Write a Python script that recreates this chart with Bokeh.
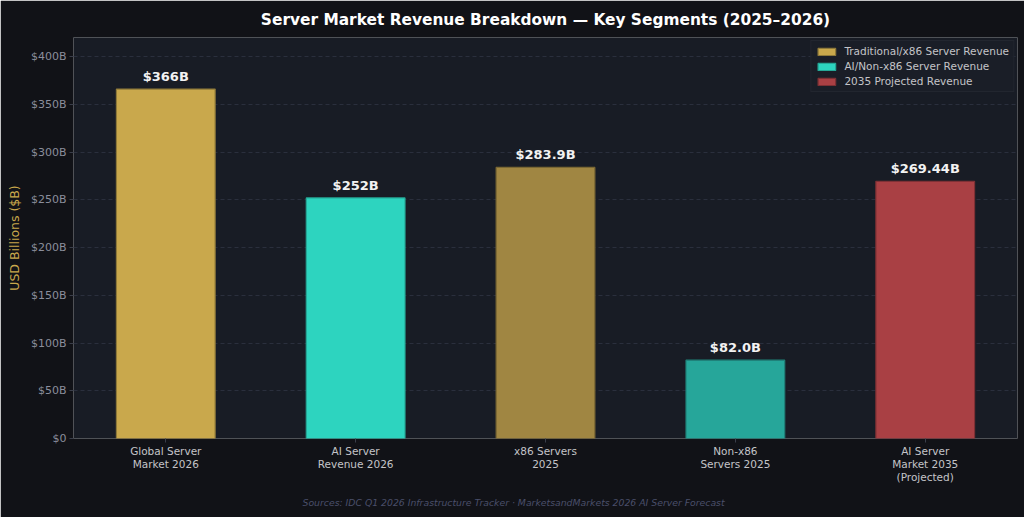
from bokeh.plotting import figure
from bokeh.models import (ColumnDataSource, FixedTicker, Legend, LegendItem,
                          Title, Range1d)
from bokeh.embed import file_html
from bokeh.resources import INLINE

# Segment data (USD billions)
categories = ["Global Server\nMarket 2026", "AI Server\nRevenue 2026", "x86 Servers\n2025",
              "Non-x86\nServers 2025", "AI Server\nMarket 2035\n(Projected)"]
values = [366, 252, 283.9, 82.0, 269.44]
value_labels = ["$366B", "$252B", "$283.9B", "$82.0B", "$269.44B"]
bar_colors = ["#c9a84c", "#2dd4bf", "#a08642", "#26a69a", "#a94044"]
edge_colors = ["#8f7a3a", "#25a897", "#7a6733", "#1f8179", "#7d3034"]
y_ticks = [0, 50, 100, 150, 200, 250, 300, 350, 400]
legend_labels = ["Traditional/x86 Server Revenue", "AI/Non-x86 Server Revenue", "2035 Projected Revenue"]
legend_index = [0, 1, 4]

FONT = "DejaVu Sans"
xs = list(range(len(categories)))

src = ColumnDataSource(dict(x=xs, top=values, color=bar_colors, edge=edge_colors, lbl=value_labels))

p = figure(width=1024, height=517, output_backend="svg", toolbar_location=None,
           x_range=Range1d(-0.486, 4.486), y_range=Range1d(0, 420),
           min_border_left=73, min_border_right=7, min_border_top=37, min_border_bottom=78)
p.background_fill_color = "#181c25"
p.border_fill_color = "#111217"
p.outline_line_color = None

# Chart title above the frame
p.title.text = "Server Market Revenue Breakdown \u2014 Key Segments (2025\u20132026)"
p.title.align = "center"
p.title.text_color = "#ffffff"
p.title.text_font = FONT
p.title.text_font_size = "15.4px"
p.title.text_font_style = "bold"
p.title.standoff = 17

bars = p.vbar(x="x", top="top", width=0.52, bottom=0, source=src,
              fill_color="color", line_color="edge", line_width=1.2)

p.text(x="x", y="top", text="lbl", source=src, text_align="center", text_baseline="bottom",
       y_offset=-5, text_color="#f2f2f2", text_font_size="13px", text_font_style="bold",
       text_font={"value": FONT})

# Axes
p.xaxis.ticker = FixedTicker(ticks=xs)
p.xaxis.major_label_overrides = {i: c for i, c in enumerate(categories)}
p.xaxis.major_label_text_color = "#c4c4c8"
p.xaxis.major_label_text_font = FONT
p.xaxis.major_label_text_font_size = "10.5px"
p.xaxis.major_label_text_line_height = 1.1
p.xaxis.major_label_standoff = 2
p.xaxis.axis_line_color = None
p.xaxis.major_tick_line_color = "#3a3e4a"
p.xaxis.major_tick_out = 4
p.xaxis.major_tick_in = 0
p.xaxis.minor_tick_line_color = None

p.yaxis.ticker = FixedTicker(ticks=y_ticks)
p.yaxis.major_label_overrides = {t: (f"${t}B" if t else "$0") for t in y_ticks}
p.yaxis.major_label_text_color = "#8b8e9c"
p.yaxis.major_label_text_font = FONT
p.yaxis.major_label_text_font_size = "11px"
p.yaxis.major_label_standoff = 3
p.yaxis.axis_line_color = None
p.yaxis.major_tick_line_color = "#3a3e4a"
p.yaxis.major_tick_out = 4
p.yaxis.major_tick_in = 0
p.yaxis.minor_tick_line_color = None
p.yaxis.axis_label = "USD Billions ($B)"
p.yaxis.axis_label_text_color = "#c9a84c"
p.yaxis.axis_label_text_font = FONT
p.yaxis.axis_label_text_font_style = "normal"
p.yaxis.axis_label_text_font_size = "12.5px"
p.yaxis.axis_label_standoff = 6

p.xgrid.grid_line_color = None
p.ygrid.grid_line_color = "#2a2f3d"
p.ygrid.grid_line_dash = "4 3"
p.ygrid.grid_line_width = 1

legend = Legend(items=[LegendItem(label=l, renderers=[bars], index=i)
                       for l, i in zip(legend_labels, legend_index)],
                location="top_right")
legend.background_fill_color = "#1b1f28"
legend.background_fill_alpha = 0.9
legend.border_line_color = "#2a2e38"
legend.border_line_width = 1
legend.label_text_color = "#c4c4c8"
legend.label_text_font = FONT
legend.label_text_font_size = "10.5px"
legend.label_standoff = 7
legend.glyph_width = 22
legend.glyph_height = 9
legend.label_height = 12
legend.spacing = 3
legend.padding = 4
legend.margin = 3
p.add_layout(legend)

# Source note beneath the category axis
source_note = Title(text="Sources: IDC Q1 2026 Infrastructure Tracker \u00b7 MarketsandMarkets 2026 AI Server Forecast",
                    align="left", text_color="#4a4f6a", text_font=FONT, text_font_size="9.3px",
                    text_font_style="italic", standoff=19, offset=229)
p.add_layout(source_note, "below")

open("out.html", "w").write(file_html(p, INLINE))
